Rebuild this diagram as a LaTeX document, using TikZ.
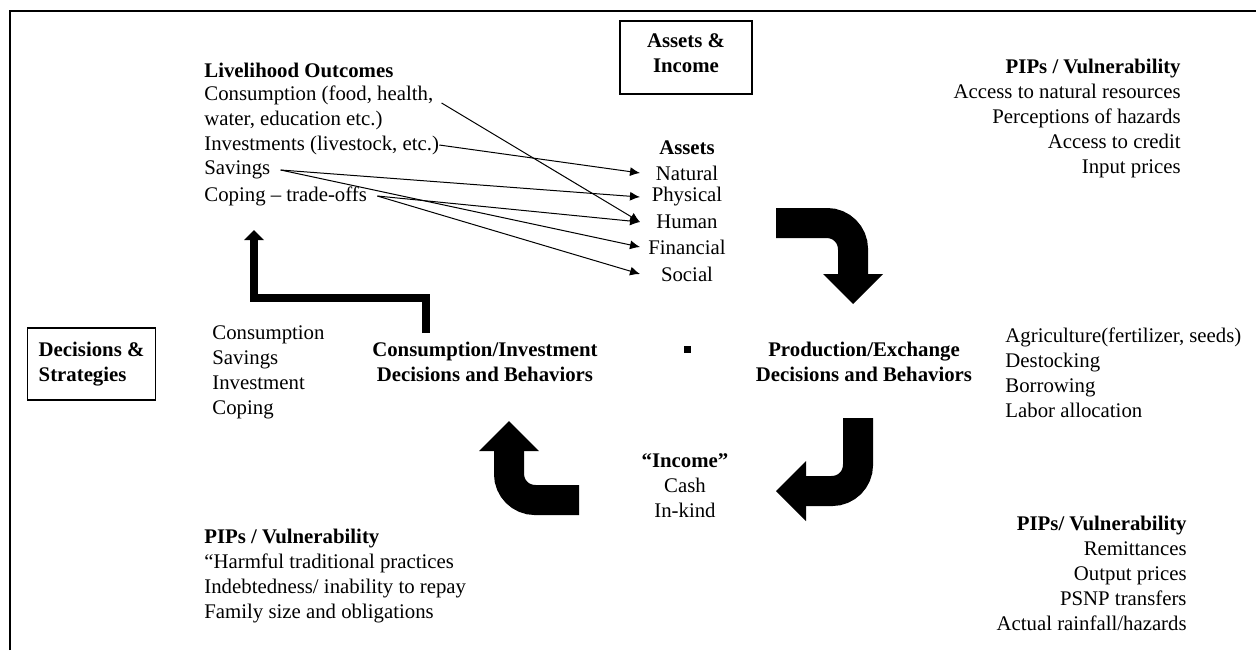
\documentclass[tikz,border=0pt]{standalone}
\usepackage{fontspec}
\setmainfont{Liberation Serif}
\usetikzlibrary{arrows.meta}

\begin{document}
\begin{tikzpicture}[x=0.5pt, y=-0.5pt,
	every node/.style={font=\fontsize{10.4}{12.5}\selectfont, inner sep=0pt},
	hd/.style={font=\fontsize{10.4}{12.5}\selectfont\bfseries},
	framebox/.style={draw, line width=0.7pt},
	link/.style={-{Latex[length=5pt,width=4.5pt]}, line width=0.5pt},
	bigarrow/.style={-{Triangle[length=15pt,width=30pt,line width=0pt]}, line width=15pt, rounded corners=13pt},
	elbow/.style={-{Triangle[length=5pt,width=10pt,line width=0pt]}, line width=4pt, line join=miter}]
	\useasboundingbox (0,0) rectangle (1256,650);
	\draw[line width=1pt] (10,650) -- (10,11) -- (1256,11);

	% boxes
	\node[framebox, hd, align=center, minimum width=66pt, minimum height=36.5pt] (assetbox) at (686,57.5) {Assets \&\\Income\\[-8.5pt]\mbox{}};
	\node[framebox, hd, anchor=west, align=left, inner xsep=5.5pt, minimum height=36pt] (decbox) at (27,364) {Decisions \&\\Strategies};

	% livelihood outcomes
	\node[hd, anchor=west] (lhead) at (204,70) {Livelihood Outcomes};
	\node[anchor=west] (cons) at (204,95) {Consumption (food, health,};
	\node[anchor=west] (water) at (204,120) {water, education etc.)};
	\node[anchor=west] (invest) at (204,145) {Investments (livestock, etc.)};
	\node[anchor=west] (sav) at (204,170) {Savings};
	\node[anchor=west] (coping) at (204,196) {Coping – trade-offs};

	% assets
	\node[hd] (assets) at (687,148) {Assets};
	\node (natural) at (687,173) {Natural};
	\node (physical) at (687,197) {Physical};
	\node (human) at (687,222) {Human};
	\node (financial) at (687,247) {Financial};
	\node (social) at (687,274) {Social};
	\coordinate (tipx) at (640,0);

	\draw[link] ([shift={(4pt,-4pt)}]cons.east) -- (human.west -| tipx);
	\draw[link] (invest.east) -- (natural.west -| tipx);
	\draw[link] ([xshift=5pt]sav.east) -- (physical.west -| tipx);
	\draw[link] ([xshift=5pt]sav.east) -- (financial.west -| tipx);
	\draw[link] ([xshift=5pt]coping.east) -- (human.west -| tipx);
	\draw[link] ([xshift=5pt]coping.east) -- (social.west -| tipx);

	\node[anchor=east, align=right] (pipstop) at (1181,118.5) {\textbf{PIPs / Vulnerability}\\Access to natural resources\\Perceptions of hazards\\Access to credit\\Input prices};

	% decisions row
	\node[anchor=west, align=left] (conslist) at (212,372.5) {Consumption\\Savings\\Investment\\Coping};
	\node[hd, align=center] (consinv) at (485,361.5) {Consumption/Investment\\Decisions and Behaviors};
	\node[fill, minimum size=3.5pt] (dot) at (687.5,349) {};
	\node[hd, align=center] (prodx) at (864,361.5) {Production/Exchange\\Decisions and Behaviors};
	\node[anchor=west, align=left] (prodlist) at (1005,373) {Agriculture(fertilizer, seeds)\\Destocking\\Borrowing\\Labor allocation};

	% income and bottom
	\node[align=center] (income) at (685,485.5) {\textbf{“Income”}\\Cash\\In-kind};
	\node[anchor=west, align=left] (pipsleft) at (204,576) {\textbf{PIPs / Vulnerability}\\“Harmful traditional practices\\Indebtedness/ inability to repay\\Family size and obligations};
	\node[anchor=east, align=right] (pipsright) at (1187,573) {\textbf{PIPs/ Vulnerability}\\Remittances\\Output prices\\PSNP transfers\\Actual rainfall/hazards};

	% block arrows
	\coordinate (a1) at (776,223);
	\coordinate (a2) at (853,304);
	\draw[bigarrow] (a1) -| (a2);
	\coordinate (b1) at (858,418);
	\coordinate (b2) at (776,491);
	\draw[bigarrow] (b1) |- (b2);
	\coordinate (c1) at (579,500);
	\coordinate (c2) at (509,421);
	\draw[bigarrow] (c1) -| (c2);
	\coordinate (e1) at (426,333);
	\coordinate (e2) at (254,230);
	\draw[elbow] (e1) -- ++(0,-35) -| (e2);
\end{tikzpicture}
\end{document}
